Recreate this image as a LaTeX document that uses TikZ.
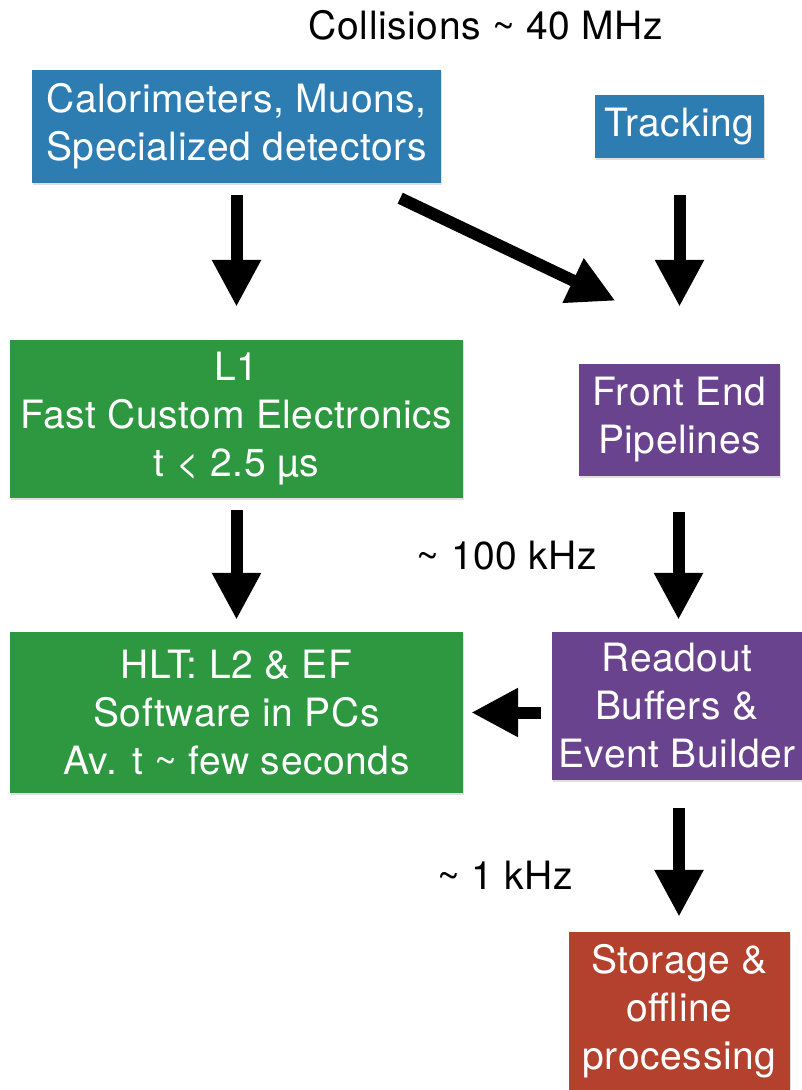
\documentclass[tikz,border=0pt]{standalone}
\usepackage{fontspec}
\setmainfont{TeX Gyre Heros}[LetterSpace=1.5]
\usetikzlibrary{calc}
\usetikzlibrary{positioning}
\usetikzlibrary{arrows.meta}
\usetikzlibrary{shadows}
\definecolor{detBlue}{RGB}{46,125,178}
\definecolor{trigGreen}{RGB}{46,152,64}
\definecolor{daqPurple}{RGB}{106,67,142}
\definecolor{storeRed}{RGB}{180,64,46}
\tikzset{
  stageBox/.style={%
    inner sep=0pt, align=center, text=white,
    font=\fontsize{39}{48}\selectfont,
    drop shadow={shadow xshift=1pt,shadow yshift=-2pt,opacity=0.25},
  },
  rateLabel/.style={%
    inner sep=0pt, font=\fontsize{39}{48}\selectfont,
  },
  bigArrow/.style={%
    line width=12pt, -{Triangle[length=47pt,width=46pt]},
  }
}

\begin{document}
\begin{tikzpicture}[x=1pt,y=-1pt]
          \useasboundingbox (0,0) rectangle (802,1090);

          \node[stageBox,fill=detBlue,minimum width=409pt,minimum height=113pt] (calo) at (236.5,126.5) {Calorimeters, Muons,\\Specialized detectors};
          \node[stageBox,fill=detBlue,minimum width=169pt,minimum height=63pt] (track) at (679.5,126.5) {Tracking};
          \node[stageBox,fill=trigGreen,minimum width=453pt,minimum height=158pt] (L1) at (236.5,419) {L1\\Fast Custom Electronics\\t < 2.5 µs};
          \node[stageBox,fill=daqPurple,minimum width=201pt,minimum height=112pt] (FE) at (679.5,420) {Front End\\Pipelines};
          \node[stageBox,fill=trigGreen,minimum width=453pt,minimum height=161pt] (HLT) at (236.5,712.5) {HLT: L2 \& EF\\Software in PCs\\Av. t \textasciitilde{} few seconds};
          \node[stageBox,fill=daqPurple,minimum width=250pt,minimum height=148pt] (RO) at (677,706) {Readout\\Buffers \&\\Event Builder};
          \node[stageBox,fill=storeRed,minimum width=221pt,minimum height=158pt] (ST) at (679.5,1011) {Storage \&\\offline\\processing};

          \node[rateLabel] (collisions) at (486,25) {Collisions \textasciitilde{} 40 MHz};
          \node[rateLabel] (rateL1) at (507,556) {\textasciitilde{} 100 kHz};
          \node[rateLabel] (rateHLT) at (505,875) {\textasciitilde{} 1 kHz};

          \draw[bigArrow,shorten <=12pt,shorten >=33pt] (calo.south) -- (L1.north);
          \draw[bigArrow,shorten <=37pt,shorten >=57pt] (track.south) -- (FE.north);
          \draw[bigArrow] ([xshift=-41pt,yshift=-15pt]calo.south east) -- ([xshift=-64pt,yshift=63pt]FE.north);
          \draw[bigArrow,shorten <=12pt,shorten >=12pt] (L1.south) -- (HLT.north);
          \draw[bigArrow,shorten <=36pt,shorten >=12pt] ([xshift=-1pt]FE.south) -- ([xshift=-1pt]FE.south |- RO.north);
          \draw[bigArrow,shorten <=11pt,shorten >=8pt] (HLT.east -| RO.west) -- (HLT.east);
          \draw[bigArrow,shorten <=28pt,shorten >=15pt] ([xshift=-0.5pt]ST.north |- RO.south) -- ([xshift=-0.5pt]ST.north);
        \end{tikzpicture}
\end{document}
